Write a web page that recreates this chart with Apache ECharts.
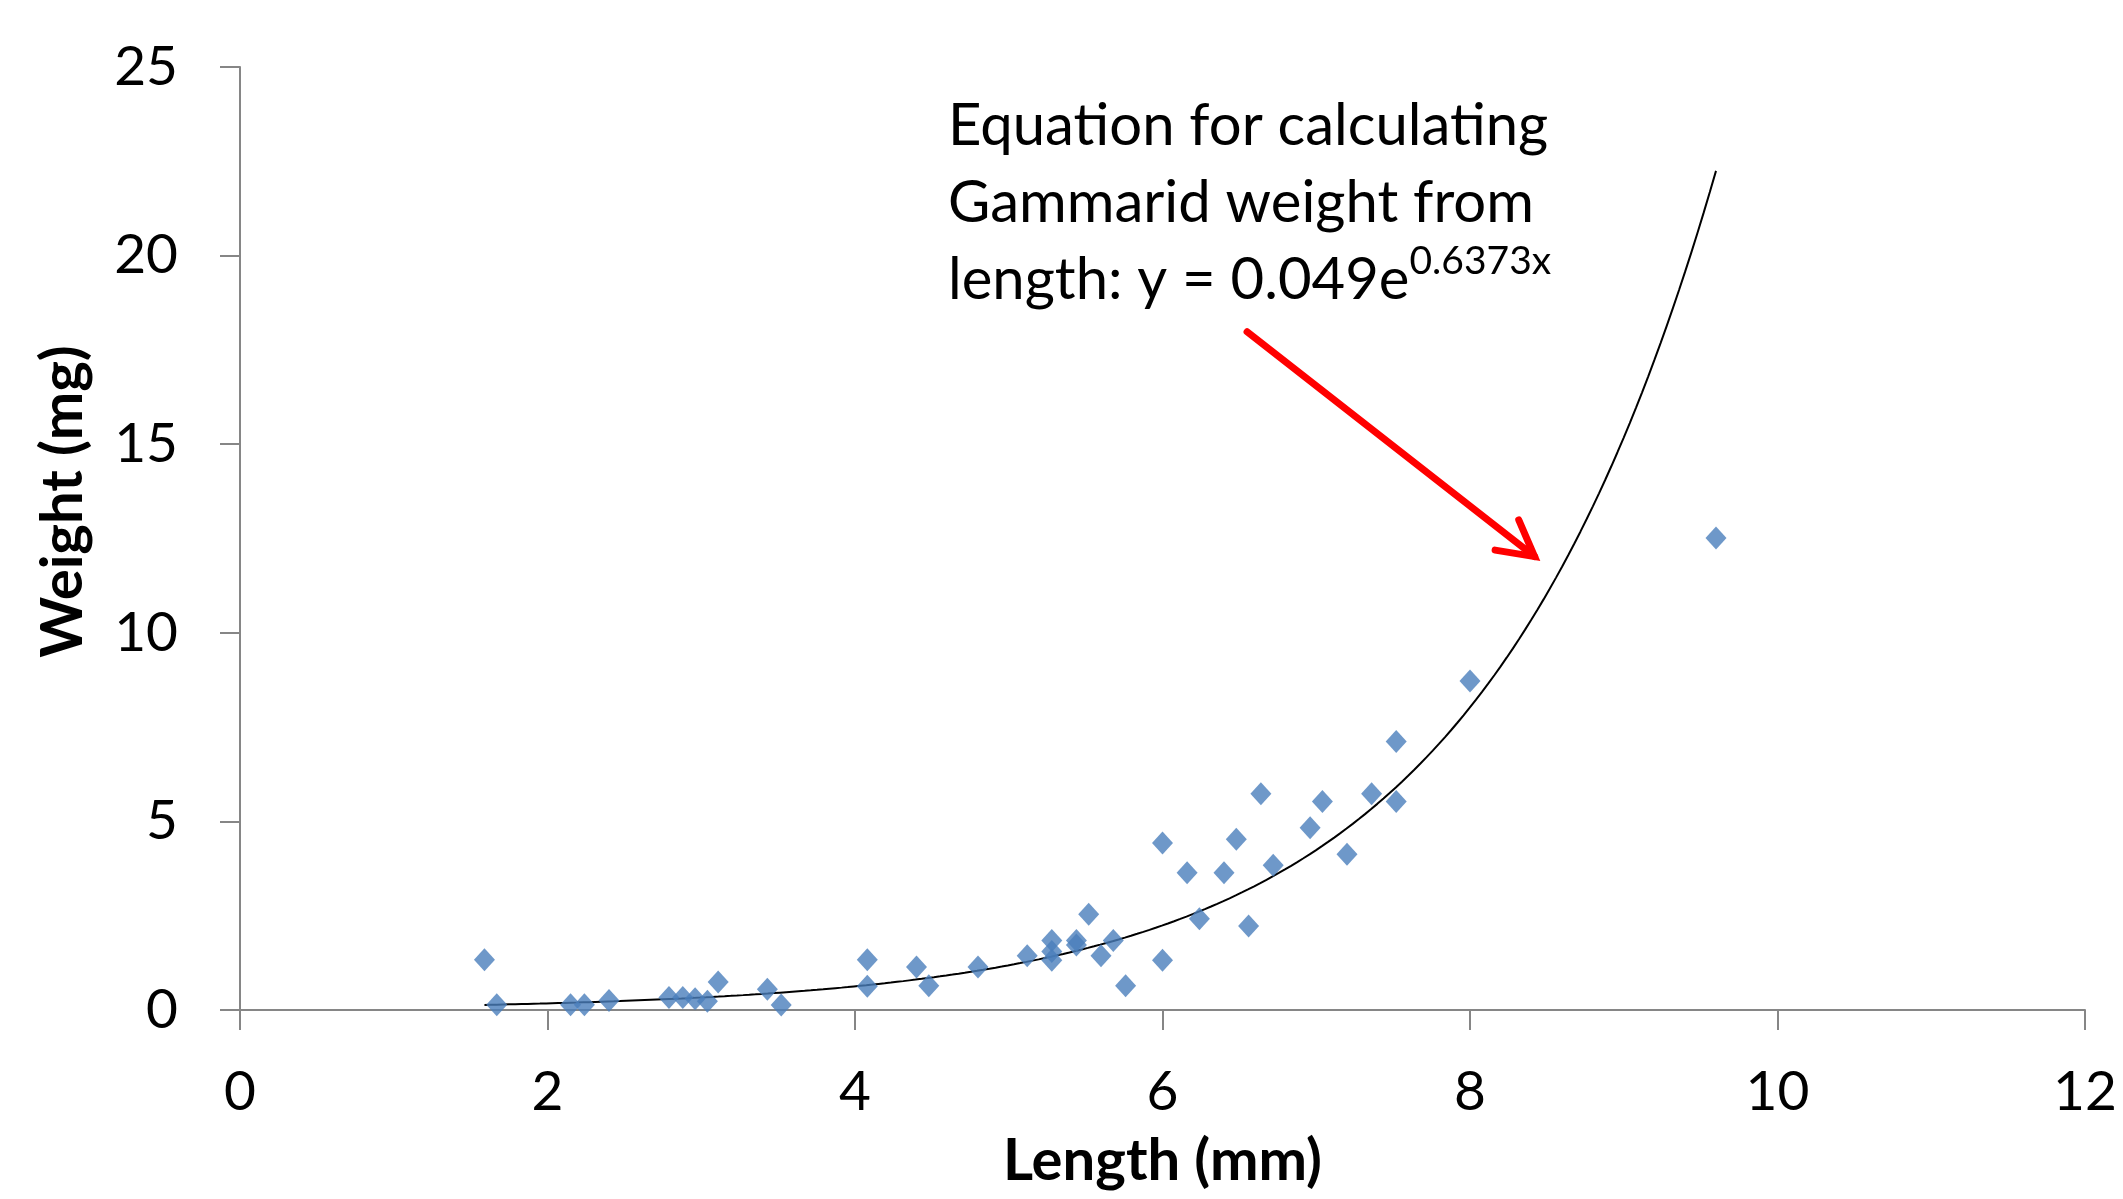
<!DOCTYPE html>
<html>
<head>
<meta charset="utf-8">
<script src="https://cdn.jsdelivr.net/npm/echarts@6/dist/echarts.min.js"></script>
<style>
html,body{margin:0;padding:0;background:#fff;}
#chart{width:2123px;height:1199px;}
</style>
</head>
<body>
<div id="chart"></div>
<script>
// ---- data ----
const lengthMm = [1.59,1.67,2.15,2.24,2.40,2.79,2.88,2.96,3.04,3.11,3.43,3.52,4.08,4.08,4.40,4.48,4.80,5.12,5.28,5.28,5.28,5.44,5.44,5.52,5.60,5.68,5.76,6.00,6.00,6.16,6.24,6.40,6.48,6.56,6.64,6.72,6.96,7.04,7.20,7.36,7.52,7.52,8.00,9.60];
const weightMg = [1.33,0.14,0.14,0.14,0.25,0.33,0.33,0.30,0.23,0.74,0.55,0.13,1.33,0.63,1.14,0.64,1.14,1.44,1.84,1.55,1.32,1.84,1.72,2.54,1.44,1.84,0.64,4.43,1.32,3.64,2.42,3.64,4.53,2.23,5.73,3.84,4.83,5.53,4.13,5.73,5.53,7.12,8.72,12.51];

// trendline stated on the chart: y = 0.049 e^(0.6373x)
const trendA = 0.049;
const trendB = 0.6373;
const trendStart = 1.59;
const trendEnd = 9.6;

const xTickLabels = ['0','2','4','6','8','10','12'];
const yTickLabels = ['0','5','10','15','20','25'];

const annotationLines = ['Equation for calculating', 'Gammarid weight from', 'length: y = 0.049e'];
const annotationSup = '0.6373x';

// arrow endpoints in data coordinates
const arrowFrom = [6.55, 17.98];
const arrowTo = [8.42, 12.02];

const points = lengthMm.map((x, i) => [x, weightMg[i]]);
const trend = [];
for (let i = 0; i <= 200; i++) {
  const x = trendStart + (trendEnd - trendStart) * i / 200;
  trend.push([x, trendA * Math.exp(trendB * x)]);
}

const FONT = 'Lato, "Open Sans", sans-serif';
const chart = echarts.init(document.getElementById('chart'), null, {renderer: 'canvas'});
const axisGray = '#868686';

chart.setOption({
  backgroundColor: '#ffffff',
  animation: false,
  grid: {left: 240, right: 38, top: 67, bottom: 189, containLabel: false},
  xAxis: {
    type: 'value', min: 0, max: 12, interval: 2,
    name: 'Length (mm)', nameLocation: 'middle', nameGap: 122,
    nameTextStyle: {fontFamily: FONT, fontWeight: 'bold', fontSize: 58, color: '#000'},
    axisLine: {show: true, onZero: false, lineStyle: {color: axisGray, width: 2}},
    axisTick: {show: true, length: 20, lineStyle: {color: axisGray, width: 2}},
    axisLabel: {fontFamily: FONT, fontSize: 55, color: '#000', margin: 55,
      formatter: v => xTickLabels[Math.round(v / 2)]},
    splitLine: {show: false}
  },
  yAxis: {
    type: 'value', min: 0, max: 25, interval: 5,
    name: 'Weight (mg)', nameLocation: 'middle', nameGap: 148,
    nameTextStyle: {fontFamily: FONT, fontWeight: 'bold', fontSize: 58, color: '#000', padding: [0, 0, 0, 74]},
    axisLine: {show: true, lineStyle: {color: axisGray, width: 2}},
    axisTick: {show: true, length: 20, lineStyle: {color: axisGray, width: 2}},
    axisLabel: {fontFamily: FONT, fontSize: 55, color: '#000', margin: 62,
      formatter: v => yTickLabels[Math.round(v / 5)]},
    splitLine: {show: false}
  },
  series: [
    {
      type: 'line', data: trend, showSymbol: false, smooth: false,
      lineStyle: {color: '#000', width: 2}, z: 2, silent: true
    },
    {
      type: 'scatter', data: points, symbol: 'diamond', symbolSize: [21, 23],
      itemStyle: {color: '#4A7EBB'}, z: 3
    }
  ]
});

const p0 = chart.convertToPixel({gridIndex: 0}, arrowFrom);
const p1 = chart.convertToPixel({gridIndex: 0}, arrowTo);
const ang = Math.atan2(p1[1] - p0[1], p1[0] - p0[0]);
const headLen = 40, headAng = 0.5;
const h1 = [p1[0] - headLen * Math.cos(ang - headAng), p1[1] - headLen * Math.sin(ang - headAng)];
const h2 = [p1[0] - headLen * Math.cos(ang + headAng), p1[1] - headLen * Math.sin(ang + headAng)];

chart.setOption({
  graphic: [
    {
      type: 'text', left: 948, top: 97, z: 10,
      style: {
        text: '{m|' + annotationLines[0] + '}\n{m|' + annotationLines[1] + '}\n{m|' + annotationLines[2] + '}{s|' + annotationSup + '}',
        rich: {
          m: {fontFamily: FONT, fontSize: 58, lineHeight: 77, fill: '#000'},
          s: {fontFamily: FONT, fontSize: 39, lineHeight: 44, verticalAlign: 'top', fill: '#000'}
        }
      }
    },
    {
      type: 'polyline', z: 10,
      shape: {points: [p0, p1]},
      style: {stroke: '#FF0000', lineWidth: 7, lineCap: 'round', fill: null}
    },
    {
      type: 'polyline', z: 10,
      shape: {points: [h1, p1, h2]},
      style: {stroke: '#FF0000', lineWidth: 7, lineCap: 'round', lineJoin: 'miter', fill: null}
    }
  ]
});
</script>
</body>
</html>
